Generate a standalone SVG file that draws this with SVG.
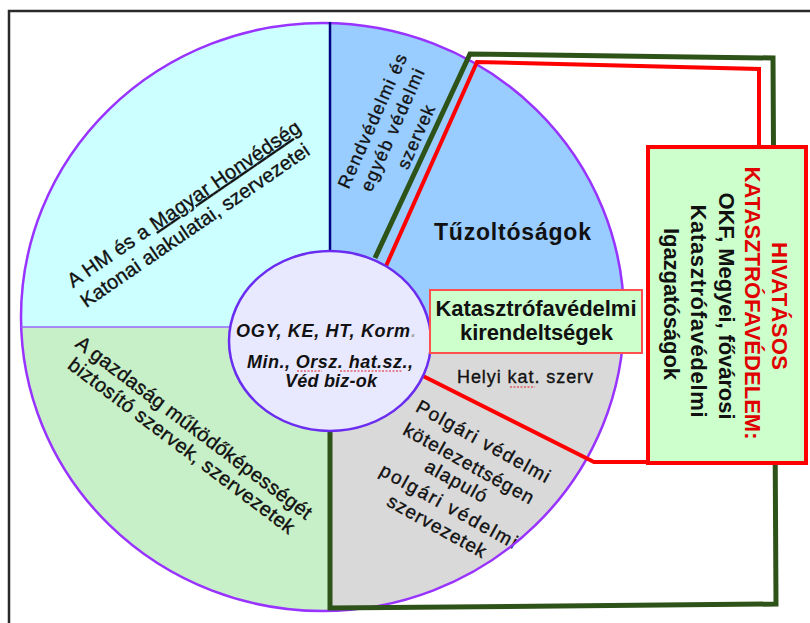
<svg xmlns="http://www.w3.org/2000/svg" width="810" height="623" viewBox="0 0 810 623">
<style>
text{font-family:"Liberation Sans",Arial,sans-serif;fill:#111}
.s20{font-size:20px;stroke:#111;stroke-width:0.35}
.s18{font-size:18px;stroke:#111;stroke-width:0.35}
.s19{font-size:19px;stroke:#111;stroke-width:0.35}
.b{font-weight:bold}
.bi{font-weight:bold;font-style:italic;font-size:18px}
.red{fill:#e00000}
.conn{fill:none;stroke-linejoin:miter}
.spell{fill:none;stroke:#e02020;stroke-width:1;stroke-dasharray:2 1.5}
</style>
<defs>
<clipPath id="ell"><ellipse cx="322.5" cy="317" rx="301.5" ry="294"/></clipPath>
</defs>
<rect width="810" height="623" fill="#fff"/>
<rect x="9" y="11" width="820" height="640" fill="none" stroke="#2a2a2a" stroke-width="2.5"/>

<g id="sector-hm">
<rect x="0" y="0" width="330" height="327" fill="#ccffff" clip-path="url(#ell)"/>
<g transform="translate(187.5,209.5) rotate(-34.5)">
<text class="s20" x="0" y="0" text-anchor="middle" textLength="278" lengthAdjust="spacing">A HM és a <tspan text-decoration="underline">Magyar Honvédség</tspan></text>
<text class="s20" x="-3" y="24" text-anchor="middle" textLength="273" lengthAdjust="spacing">Katonai alakulatai, szervezetei</text>
</g>
</g>

<g id="sector-gazdasag">
<rect x="0" y="327" width="330" height="300" fill="#c8f0c8" clip-path="url(#ell)"/>
<g transform="translate(190,433) rotate(37)">
<text class="s20" x="0" y="0" text-anchor="middle" textLength="290" lengthAdjust="spacing">A gazdaság működőképességét</text>
<text class="s20" x="1" y="22" text-anchor="middle" textLength="278" lengthAdjust="spacing">biztosító szervek, szervezetek</text>
</g>
</g>

<g id="sector-rendvedelmi">
<rect x="330" y="0" width="480" height="322" fill="#99ccff" clip-path="url(#ell)"/>
<text class="s18" transform="translate(378,123.5) rotate(-66)" text-anchor="middle" textLength="145" lengthAdjust="spacing">Rendvédelmi és</text>
<text class="s18" transform="translate(398,132.5) rotate(-66)" text-anchor="middle" textLength="132" lengthAdjust="spacing">egyéb védelmi</text>
<text class="s18" transform="translate(421.5,139.5) rotate(-66)" text-anchor="middle" textLength="68" lengthAdjust="spacing">szervek</text>
</g>

<g id="sector-helyi">
<rect x="330" y="322" width="480" height="301" fill="#d9d9d9" clip-path="url(#ell)"/>
<text class="s18" x="457" y="383" textLength="136" lengthAdjust="spacing">Helyi kat. szerv</text>
<path class="spell" d="M510 387 H535"/>
<text class="s19" transform="translate(480,447) rotate(29)" text-anchor="middle" textLength="150" lengthAdjust="spacing">Polgári védelmi</text>
<text class="s19" transform="translate(465.6,469.2) rotate(29)" text-anchor="middle" textLength="146" lengthAdjust="spacing">kötelezettségen</text>
<text class="s19" transform="translate(453.1,486.7) rotate(29)" text-anchor="middle" textLength="68" lengthAdjust="spacing">alapuló</text>
<text class="s19" transform="translate(445.6,511.7) rotate(29)" text-anchor="middle" textLength="154" lengthAdjust="spacing">polgári védelmi</text>
<text class="s19" transform="translate(433.6,531.7) rotate(29)" text-anchor="middle" textLength="110" lengthAdjust="spacing">szervezetek</text>
</g>

<g id="tuzoltosagok">
<text class="b" style="font-size:23px" x="434" y="240" textLength="157" lengthAdjust="spacing">Tűzoltóságok</text>
</g>

<ellipse cx="322.5" cy="317" rx="301.5" ry="294" fill="none" stroke="#9933ff" stroke-width="2.5"/>
<line x1="21" y1="327" x2="235" y2="327" stroke="#9966ff" stroke-width="1.5"/>
<line x1="330" y1="22" x2="330" y2="255" stroke="#000080" stroke-width="2.5"/>

<g id="connectors">
<path class="conn" stroke="#2e5318" stroke-width="5" d="M375 258 L470 54 L773 58 L776 604 L330 608 L330 428"/>
<path class="conn" stroke="#ff0000" stroke-width="4" d="M386 266 L477 62 L759 69 L759 150 M423 376 L594 462 L650 462"/>
</g>

<g id="center">
<ellipse cx="330" cy="341" rx="101" ry="90" fill="#e8e8ff" stroke="#6a2cf0" stroke-width="2.5"/>
<text class="bi" x="236" y="337" textLength="174" lengthAdjust="spacing">OGY, KE, HT, Korm</text>
<text class="bi" x="411" y="337" style="fill:#aaaaaa">.</text>
<text class="bi" x="247" y="368" textLength="166" lengthAdjust="spacing">Min., Orsz. hat.sz.,</text>
<text class="bi" x="285" y="387" textLength="92" lengthAdjust="spacing">Véd biz-ok</text>
<path class="spell" d="M297 371 H322 M340 371 H403"/>
</g>

<g id="kirendeltsegek">
<rect x="430" y="290" width="212" height="63" fill="#ccffcc" stroke="#ff5050" stroke-width="2"/>
<text class="b" style="font-size:22px" x="536" y="316" text-anchor="middle" textLength="201" lengthAdjust="spacing">Katasztrófavédelmi</text>
<text class="b" style="font-size:22px" x="536.5" y="340" text-anchor="middle" textLength="153" lengthAdjust="spacing">kirendeltségek</text>
</g>

<g id="hivatasos">
<rect x="648" y="147" width="158" height="316" fill="#ccffcc" stroke="#ff0000" stroke-width="4"/>
<text class="b red" style="font-size:22px" transform="translate(780,306) rotate(90)" x="0" y="8" text-anchor="middle" textLength="128" lengthAdjust="spacing">HIVATÁSOS</text>
<text class="b red" style="font-size:22px" transform="translate(753,303) rotate(90)" x="0" y="8" text-anchor="middle" textLength="273" lengthAdjust="spacing">KATASZTRÓFAVÉDELEM:</text>
<text class="b" style="font-size:22px" transform="translate(727,306) rotate(90)" x="0" y="8" text-anchor="middle" textLength="227" lengthAdjust="spacing">OKF, Megyei, fővárosi</text>
<text class="b" style="font-size:22px" transform="translate(699,311) rotate(90)" x="0" y="8" text-anchor="middle" textLength="213" lengthAdjust="spacing">Katasztrófavédelmi</text>
<text class="b" style="font-size:22px" transform="translate(672,304) rotate(90)" x="0" y="8" text-anchor="middle" textLength="152" lengthAdjust="spacing">Igazgatóságok</text>
</g>
</svg>
